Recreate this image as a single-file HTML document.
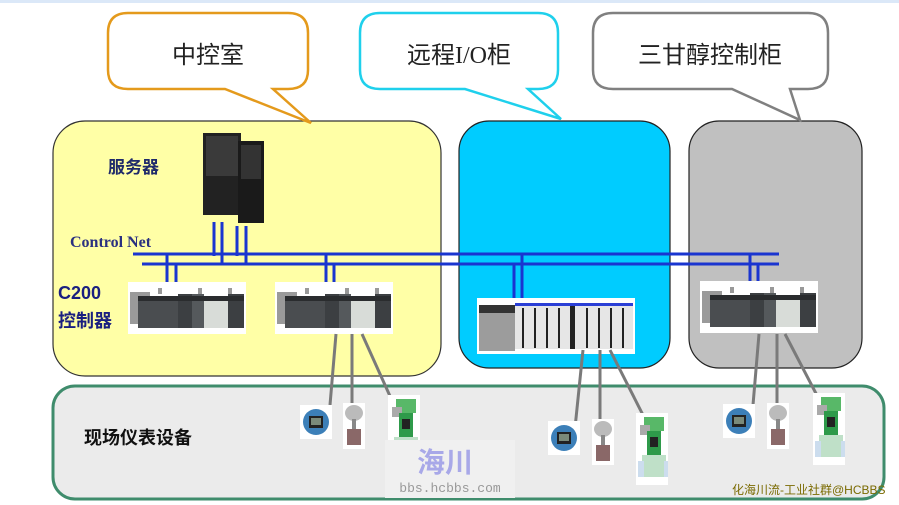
<!DOCTYPE html>
<html><head><meta charset="utf-8"><style>
html,body{margin:0;padding:0;background:#fff;}
svg{display:block;font-family:"Liberation Sans","Noto Sans CJK SC",sans-serif;}
</style></head><body>
<svg width="899" height="505" viewBox="0 0 899 505" xmlns="http://www.w3.org/2000/svg">
<defs>
<g id="plc">
 <rect x="0" y="0" width="118" height="52" fill="#fff"/>
 <rect x="2" y="10" width="20" height="32" fill="#9a9a9a"/>
 <rect x="10" y="14" width="40" height="32" fill="#4a4d50"/>
 <rect x="50" y="12" width="14" height="34" fill="#3c3f42"/>
 <rect x="64" y="12" width="12" height="34" fill="#55595c"/>
 <rect x="76" y="18" width="24" height="28" fill="#d8dcd8"/>
 <rect x="100" y="12" width="16" height="34" fill="#3c3f42"/>
 <rect x="10" y="14" width="106" height="5" fill="#2a2c2e"/>
 <rect x="30" y="6" width="4" height="6" fill="#999"/><rect x="70" y="6" width="4" height="6" fill="#999"/><rect x="100" y="6" width="4" height="6" fill="#999"/>
</g>
<g id="tx">
 <rect x="0" y="0" width="32" height="34" fill="#fff"/>
 <circle cx="16" cy="17" r="13" fill="#3c7fb8"/>
 <rect x="9" y="11" width="14" height="12" fill="#222"/>
 <rect x="11" y="13" width="10" height="7" fill="#7a8a7a"/>
</g>
<g id="ps">
 <rect x="0" y="0" width="22" height="46" fill="#fff"/>
 <ellipse cx="11" cy="10" rx="9" ry="8" fill="#bbb"/>
 <rect x="9" y="16" width="4" height="12" fill="#888"/>
 <rect x="4" y="26" width="14" height="16" fill="#8a6868"/>
</g>
<g id="vl">
 <rect x="0" y="0" width="32" height="72" fill="#fff"/>
 <rect x="8" y="4" width="20" height="14" fill="#58b868"/>
 <rect x="4" y="12" width="10" height="10" fill="#aaa"/>
 <rect x="11" y="18" width="14" height="24" fill="#2e9a4a"/>
 <rect x="14" y="24" width="8" height="10" fill="#222"/>
 <rect x="6" y="42" width="24" height="22" fill="#bfe0c8"/>
 <rect x="2" y="48" width="6" height="16" fill="#cde"/><rect x="28" y="48" width="4" height="16" fill="#cde"/>
</g>
</defs>

<rect x="0" y="0" width="899" height="3" fill="#dbe8f8"/>

<!-- panels -->
<rect x="53" y="121" width="388" height="255" rx="32" fill="#ffffa6" stroke="#333" stroke-width="1.2"/>
<rect x="459" y="121" width="211" height="247" rx="30" fill="#00ccff" stroke="#222" stroke-width="1.2"/>
<rect x="689" y="121" width="173" height="247" rx="30" fill="#c0c0c0" stroke="#222" stroke-width="1.2"/>
<rect x="53" y="386" width="831" height="113" rx="22" fill="#ebebeb" stroke="#3f8c6c" stroke-width="3"/>

<!-- callouts -->
<path d="M128 13 H288 Q308 13 308 33 V70 Q308 89 288 89 H273 L311 123 L225 89 H128 Q108 89 108 70 V33 Q108 13 128 13 Z" fill="#fff" stroke="#e49a1c" stroke-width="2.5"/>
<text x="208" y="63" font-size="24" text-anchor="middle" fill="#222">中控室</text>
<path d="M380 13 H538 Q558 13 558 33 V70 Q558 89 538 89 H528 L561 119 L465 89 H380 Q360 89 360 70 V33 Q360 13 380 13 Z" fill="#fff" stroke="#1fd0ec" stroke-width="2.5"/>
<text x="459" y="63" font-size="24" text-anchor="middle" fill="#222" font-family="Liberation Serif,Noto Sans CJK SC,serif">远程I/O柜</text>
<path d="M613 13 H808 Q828 13 828 33 V70 Q828 89 808 89 H790 L800 120 L732 89 H613 Q593 89 593 70 V33 Q593 13 613 13 Z" fill="#fff" stroke="#808080" stroke-width="2.5"/>
<text x="710" y="63" font-size="24" text-anchor="middle" fill="#222">三甘醇控制柜</text>

<!-- server -->
<rect x="203" y="133" width="38" height="82" fill="#222"/>
<rect x="238" y="141" width="26" height="82" fill="#1a1a1a"/>
<rect x="206" y="136" width="32" height="40" fill="#3a3a3a"/>
<rect x="241" y="145" width="20" height="34" fill="#333"/>

<!-- bus -->
<g stroke="#1a35d0" stroke-width="3" fill="none">
<line x1="133" y1="254" x2="779" y2="254"/>
<line x1="142" y1="264" x2="779" y2="264"/>
<line x1="214" y1="222" x2="214" y2="256"/><line x1="222" y1="222" x2="222" y2="264"/>
<line x1="237" y1="226" x2="237" y2="256"/><line x1="246" y1="226" x2="246" y2="264"/>
<line x1="167" y1="254" x2="167" y2="282"/><line x1="176" y1="264" x2="176" y2="282"/>
<line x1="326" y1="254" x2="326" y2="282"/><line x1="334" y1="264" x2="334" y2="282"/>
<line x1="514" y1="264" x2="514" y2="305"/><line x1="522" y1="254" x2="522" y2="305"/>
<line x1="750" y1="254" x2="750" y2="282"/><line x1="758" y1="264" x2="758" y2="282"/>
</g>

<!-- controllers -->
<use href="#plc" x="128" y="282"/>
<use href="#plc" x="275" y="282"/>
<use href="#plc" x="700" y="281"/>
<!-- remote IO rack -->
<rect x="477" y="298" width="158" height="56" fill="#fff"/>
<rect x="479" y="305" width="36" height="46" fill="#9c9c9c"/>
<rect x="479" y="305" width="36" height="8" fill="#333"/>
<rect x="515" y="303" width="118" height="46" fill="#e6e6e6"/>
<g fill="#222"><rect x="522" y="308" width="2" height="40"/><rect x="534" y="308" width="2" height="40"/><rect x="546" y="308" width="2" height="40"/><rect x="558" y="308" width="2" height="40"/><rect x="570" y="303" width="5" height="46"/><rect x="586" y="308" width="2" height="40"/><rect x="598" y="308" width="2" height="40"/><rect x="610" y="308" width="2" height="40"/><rect x="622" y="308" width="2" height="40"/></g>
<rect x="515" y="303" width="118" height="3" fill="#2b3fd6"/>

<!-- field wires -->
<g stroke="#7a7a7a" stroke-width="3">
<line x1="336" y1="334" x2="330" y2="405"/><line x1="352" y1="334" x2="352" y2="405"/><line x1="362" y1="334" x2="394" y2="405"/>
<line x1="583" y1="350" x2="575" y2="428"/><line x1="600" y1="350" x2="600" y2="424"/><line x1="610" y1="350" x2="644" y2="417"/>
<line x1="759" y1="334" x2="753" y2="405"/><line x1="777" y1="334" x2="777" y2="406"/><line x1="785" y1="334" x2="822" y2="405"/>
</g>
<use href="#tx" x="300" y="405"/><use href="#ps" x="343" y="403"/><use href="#vl" x="388" y="395"/>
<use href="#tx" x="548" y="421"/><use href="#ps" x="592" y="419"/><use href="#vl" x="636" y="413"/>
<use href="#tx" x="723" y="404"/><use href="#ps" x="767" y="403"/><use href="#vl" x="813" y="393"/>

<!-- labels -->
<text x="108" y="173" font-size="17" font-weight="bold" fill="#1f2a6a">服务器</text>
<text x="70" y="247" font-size="16" font-weight="bold" fill="#2a3080" font-family="Liberation Serif,serif">Control Net</text>
<text x="58" y="299" font-size="18" font-weight="bold" fill="#1a1f80">C200</text>
<text x="58" y="327" font-size="18" font-weight="bold" fill="#1a1f80">控制器</text>
<text x="84" y="444" font-size="18" font-weight="bold" fill="#111">现场仪表设备</text>

<!-- watermark -->
<rect x="385" y="440" width="130" height="58" fill="#f0f0f0"/>
<text x="445" y="472" font-size="28" font-weight="bold" fill="#a8a8e8" text-anchor="middle">海川</text>
<text x="450" y="492" font-size="13" fill="#999" text-anchor="middle" font-family="Liberation Mono,monospace">bbs.hcbbs.com</text>
<text x="732" y="494" font-size="12" fill="#7a6a00">化海川流-工业社群@HCBBS</text>
</svg>
</body></html>
